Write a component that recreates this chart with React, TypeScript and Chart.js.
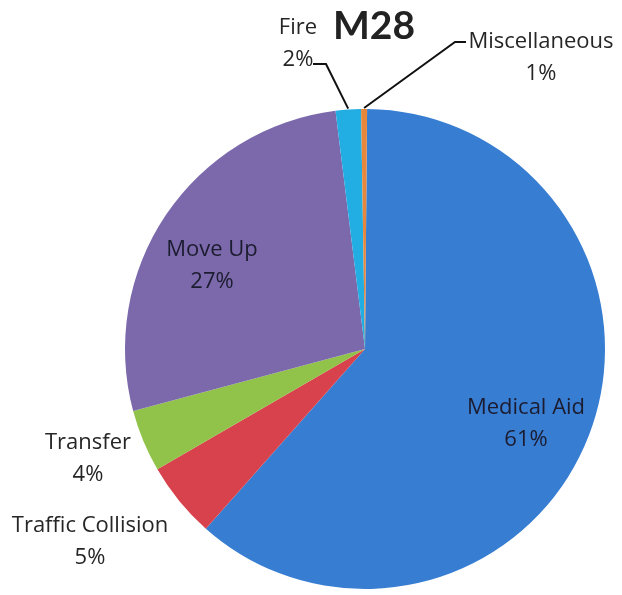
import React, { useEffect, useRef } from "react";
import { Chart, registerables } from "chart.js";

Chart.register(...registerables);

const categories = ["Medical Aid", "Traffic Collision", "Transfer", "Move Up", "Fire", "Miscellaneous"];
const values = [61.4, 5.1, 4.2, 27.2, 1.7, 0.4];
const pctLabels = ["61%", "5%", "4%", "27%", "2%", "1%"];
const colors = ["#377dd2", "#d7424c", "#91c34b", "#7b69ab", "#22aee2", "#e6873c"];

// label layout (first-line centre; second line drawn below)
const labelPos: [number, number][] = [
  [526, 408],
  [90, 526],
  [88, 443],
  [212, 250],
  [298, 28],
  [541, 42],
];
// leader line start points for small slices (null = none)
const leaderStart: ([number, number][] | null)[] = [
  null,
  null,
  null,
  null,
  [[313, 64], [326, 64]],
  [[466, 42], [455, 42]],
];

const labelPlugin = {
  id: "pieLabels",
  afterDatasetsDraw(chart: any) {
    const ctx = chart.ctx;
    const meta = chart.getDatasetMeta(0);
    ctx.save();
    // title
    ctx.fillStyle = "#222";
    ctx.font = "bold 39px Lato";
    ctx.textAlign = "center";
    ctx.textBaseline = "middle";
    ctx.fillText("M28", 374, 26);

    ctx.font = "22px 'Open Sans'";
    meta.data.forEach((arc: any, i: number) => {
      const [x, y] = labelPos[i];
      ctx.fillStyle = i === 0 || i === 3 ? "#1c1c30" : "#262626";
      ctx.fillText(categories[i], x, y);
      ctx.fillText(pctLabels[i], x, y + 32);
      const ls = leaderStart[i];
      if (ls) {
        const mid = (arc.startAngle + arc.endAngle) / 2;
        const ex = arc.x + Math.cos(mid) * (arc.outerRadius + 1);
        const ey = arc.y + Math.sin(mid) * (arc.outerRadius + 1);
        ctx.strokeStyle = "#111";
        ctx.lineWidth = 2;
        ctx.beginPath();
        ctx.moveTo(ls[0][0], ls[0][1]);
        ctx.lineTo(ls[1][0], ls[1][1]);
        ctx.lineTo(ex, ey);
        ctx.stroke();
      }
    });
    ctx.restore();
  },
};

export default function App() {
  const ref = useRef<HTMLCanvasElement | null>(null);
  useEffect(() => {
    document.body.style.margin = "0";
    const chart = new Chart(ref.current as HTMLCanvasElement, {
      type: "pie",
      data: {
        labels: categories,
        datasets: [
          {
            data: values,
            backgroundColor: colors,
            borderWidth: 0,
          },
        ],
      },
      options: {
        responsive: false,
        animation: false,
        rotation: 0.5,
        layout: { padding: { left: 125, right: 17, top: 109, bottom: 6 } },
        plugins: {
          legend: { display: false },
          tooltip: { enabled: false },
          title: { display: false },
        },
      },
      plugins: [labelPlugin],
    });
    return () => chart.destroy();
  }, []);
  return (
    <div style={{ position: "absolute", left: 0, top: 0, width: 622, height: 595, background: "#fff" }}>
      <canvas ref={ref} width={622} height={595} />
    </div>
  );
}
